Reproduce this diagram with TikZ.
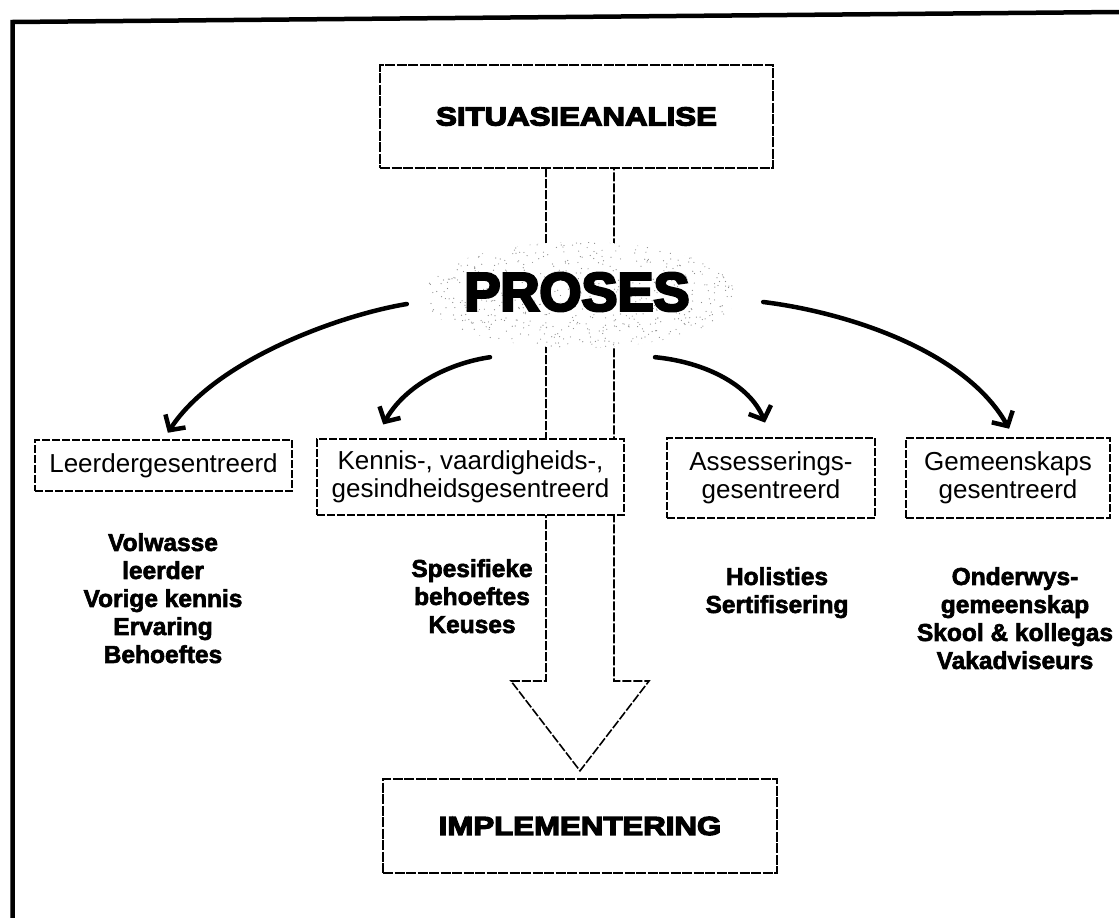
\documentclass[tikz,border=0pt]{standalone}
\usepackage{fontspec}
\setmainfont{Liberation Sans}
\newfontfamily\headfont{Liberation Sans}[FakeBold=5,FakeStretch=1.2]
\newfontfamily\prosfont{Liberation Sans}[FakeBold=5]
\newfontfamily\notefont{Liberation Sans}[FakeBold=2.5]
\usetikzlibrary{arrows.meta,shapes.geometric}
\tikzset{
  hbox/.style={draw, line width=1.6pt, dash pattern=on 10pt off 1.5pt, fill=white, inner sep=0pt,
    font=\headfont\bfseries\fontsize{26}{30}\selectfont},
  cbox/.style={draw, line width=1.1pt, dash pattern=on 8pt off 2pt, fill=white, inner sep=0pt,
    align=center, font=\fontsize{26}{28}\selectfont},
  notes/.style={align=center, inner sep=0pt, anchor=north,
    font=\notefont\bfseries\fontsize{24.5}{28}\selectfont},
  curv/.style={line width=4.5pt, -{Straight Barb[length=11pt,width=24pt]}, line cap=round},
  shaft/.style={line width=1.6pt, dash pattern=on 9pt off 2pt},
}
\begin{document}
\begin{tikzpicture}[x=1pt,y=-1pt]
\useasboundingbox (0,0) rectangle (1119,918);
% outer frame
\draw[line width=4.5pt] (12.5,918) -- (12.5,22) -- (1119,12);
% top and bottom boxes (placed first for anchors)
\path (576.5,116.5) node[minimum width=393pt, minimum height=103pt, inner sep=0pt] (sitpos) {};
\path (580,826) node[minimum width=394pt, minimum height=94pt, inner sep=0pt] (imppos) {};
% big hollow arrow
\draw[shaft, line join=miter] ([xshift=-30.5pt]sitpos.south) -- (546,681) -- (511,681)
  -- ([yshift=8pt]imppos.north) -- (649,681) -- (614,681) -- ([xshift=37.5pt]sitpos.south);
% header boxes
\node[hbox, minimum width=393pt, minimum height=103pt] (sit) at (576.5,116.5) {SITUASIEANALISE};
\node[hbox, minimum width=394pt, minimum height=94pt] (imp) at (580,826) {IMPLEMENTERING};
% PROSES cloud
\node[ellipse, fill=white, minimum width=314pt, minimum height=106pt, inner sep=0pt] (proses) at (580,295) {};
\begin{scope}
  \clip (580,295) ellipse [x radius=157pt, y radius=53pt];
  \pgfmathsetseed{7}
  \foreach \i in {1,...,750} {
    \pgfmathsetmacro\rx{580+157*rand}
    \pgfmathsetmacro\ry{295+53*rand}
    \fill[black!45] (\rx,\ry) circle (0.6pt);
  }
\end{scope}
\node[inner sep=0pt, font=\prosfont\bfseries\fontsize{54}{60}\selectfont] (prosestext) at (577,292) {PROSES};
% category boxes
\node[cbox, minimum width=257pt, minimum height=51pt] (leer) at (163.5,465.5) {Leerdergesentreerd};
\node[cbox, minimum width=307pt, minimum height=76pt] (kennis) at (470.5,477) {Kennis-, vaardigheids-,\\gesindheidsgesentreerd};
\node[cbox, minimum width=208pt, minimum height=80pt] (assess) at (771,478) {Assesserings-\\gesentreerd};
\node[cbox, minimum width=204pt, minimum height=80pt] (gemeen) at (1008,478) {Gemeenskaps\\gesentreerd};
% curved arrows
\draw[curv, shorten >=8pt] ([shift={(-16,9)}]proses.west) .. controls (340,315) and (215,360) .. (leer.north);
\draw[curv, shorten >=16pt] ([shift={(-90,9)}]proses.south) .. controls (450,363) and (405,385) .. ([xshift=-95pt]kennis.north);
\draw[curv, shorten >=16pt] ([shift={(75,9)}]proses.south) .. controls (705,362) and (750,385) .. (assess.north);
\draw[curv, shorten >=10pt] ([shift={(26,7)}]proses.east) .. controls (845,312) and (965,350) .. ([xshift=6pt]gemeen.north);
% notes
\node[notes] (leernotes) at (163,533) {Volwasse\\leerder\\Vorige kennis\\Ervaring\\Behoeftes};
\node[notes] (kennisnotes) at (472,559) {Spesifieke\\behoeftes\\Keuses};
\node[notes] (assessnotes) at (777,567) {Holisties\\Sertifisering};
\node[notes] (gemeennotes) at (1015,567) {Onderwys-\\gemeenskap\\Skool \& kollegas\\Vakadviseurs};
\end{tikzpicture}
\end{document}
